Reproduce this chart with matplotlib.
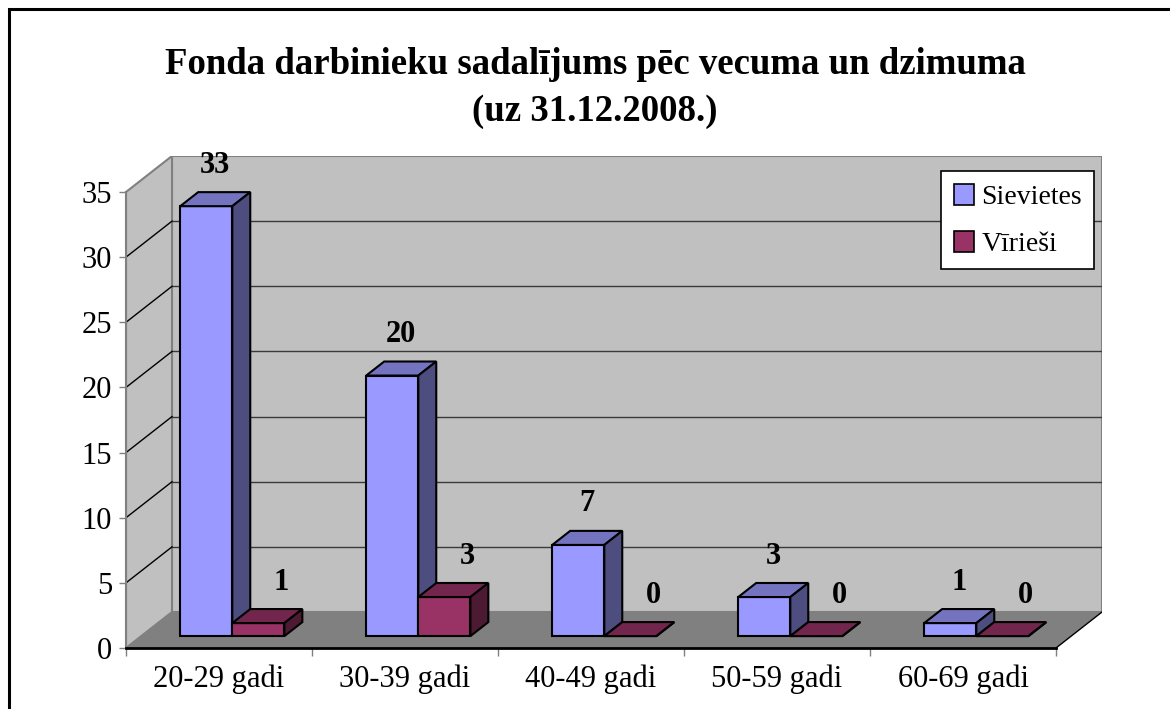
import matplotlib
matplotlib.use("Agg")
import matplotlib.pyplot as plt
from matplotlib.patches import Polygon, Rectangle, Patch
import numpy as np

plt.rcParams['font.family'] = ['Liberation Serif', 'DejaVu Serif']

categories = ['20-29 gadi', '30-39 gadi', '40-49 gadi', '50-59 gadi', '60-69 gadi']
series_names = ['Sievietes', 'Vīrieši']
sievietes = [33, 20, 7, 3, 1]
virieshi = [1, 3, 0, 0, 0]
yticks = [0, 5, 10, 15, 20, 25, 30, 35]

# colours: front, top, side
colors = {
    'Sievietes': ('#9999FF', '#7373BF', '#4D4D80'),
    'Vīrieši': ('#993366', '#73264D', '#4D1A33'),
}

W, H = 1170, 709
fig = plt.figure(figsize=(W / 100, H / 100), dpi=100)
fig.patch.set_facecolor('white')

# outer frame of the chart (runs off right and bottom)
fig.add_artist(Rectangle((9 / W, -0.1), 1.2, 1 - 9 / H + 0.1, transform=fig.transFigure,
                         fill=False, ec='black', lw=2.2))

# front plane: x 126..1056 px, value 0..35 -> y 648..192 px; depth 46 px right, 36 px up
left_px, right_px, y0_px, y35_px = 126, 1056, 648, 192
dx_px, dy_px = 46, 36
ncat = len(categories)
xmax = ncat * (right_px - left_px + dx_px) / (right_px - left_px)
ymax = 35 * (y0_px - y35_px + dy_px) / (y0_px - y35_px)
DX = xmax - ncat
DY = ymax - 35

ax = fig.add_axes([left_px / W, 1 - y0_px / H,
                   (right_px - left_px + dx_px) / W, (y0_px - y35_px + dy_px) / H])
ax.set_xlim(0, xmax)
ax.set_ylim(0, ymax)
ax.patch.set_visible(False)


def P(x, v, d):
    return (x + d * DX, v + d * DY)


# walls
ax.add_patch(Polygon([P(0, 0, 1), P(ncat, 0, 1), P(ncat, 35, 1), P(0, 35, 1)],
                     fc='#C0C0C0', ec='#808080', lw=1.5, zorder=1))
ax.add_patch(Polygon([P(0, 0, 0), P(0, 35, 0), P(0, 35, 1), P(0, 0, 1)],
                     fc='#C0C0C0', ec='#808080', lw=1.5, zorder=1))
ax.add_patch(Polygon([P(0, 0, 0), P(ncat, 0, 0), P(ncat, 0, 1), P(0, 0, 1)],
                     fc='#808080', ec='none', zorder=1))
ax.plot(*zip(P(ncat, 0, 0), P(ncat, 0, 1)), color='black', lw=1, zorder=2)

for v in yticks[1:-1]:
    ax.plot(*zip(P(0, v, 1), P(ncat, v, 1)), color='#3a3a3a', lw=1, zorder=2)
    ax.plot(*zip(P(0, v, 0), P(0, v, 1)), color='black', lw=1, zorder=2)

# bars
bar_off, bar_w = 0.21, 0.28
d0, d1 = 0.33, 0.72
label_dx = [0, 10]
for i in range(ncat):
    for k, (name, vals) in enumerate(zip(series_names, [sievietes, virieshi])):
        v = vals[i]
        front, top, side = colors[name]
        x0 = i + bar_off + k * bar_w
        x1 = x0 + bar_w
        ax.add_patch(Polygon([P(x0, 0, d0), P(x1, 0, d0), P(x1, v, d0), P(x0, v, d0)],
                             fc=front, ec='black', lw=1.5, zorder=3, joinstyle='miter'))
        ax.add_patch(Polygon([P(x0, v, d0), P(x1, v, d0), P(x1, v, d1), P(x0, v, d1)],
                             fc=top, ec='black', lw=1.5, zorder=3, joinstyle='miter'))
        ax.add_patch(Polygon([P(x1, 0, d0), P(x1, 0, d1), P(x1, v, d1), P(x1, v, d0)],
                             fc=side, ec='black', lw=1.5, zorder=3, joinstyle='miter'))
        lx, ly = P((x0 + x1) / 2, v, (d0 + d1) / 2)
        ax.annotate(str(v), (lx, ly), xytext=(label_dx[k], 14), textcoords='offset points',
                    ha='center', va='bottom', fontsize=22, fontweight='bold', zorder=4)

# axes, ticks, labels
for s in ['top', 'right']:
    ax.spines[s].set_visible(False)
ax.spines['left'].set_bounds(0, 35)
ax.spines['left'].set_color('#808080')
ax.spines['left'].set_linewidth(1.5)
ax.spines['bottom'].set_bounds(0, ncat)
ax.spines['bottom'].set_color('black')
ax.spines['bottom'].set_linewidth(2)
ax.spines['bottom'].set_zorder(2.5)
ax.set_yticks(yticks)
ax.set_yticklabels([str(t) for t in yticks], fontsize=22)
ax.tick_params(axis='y', length=5, width=1, color='#808080', pad=5)
ax.set_xticks(np.arange(ncat + 1))
ax.set_xticklabels([])
ax.tick_params(axis='x', which='major', length=6, width=1, color='#808080')
ax.set_xticks(np.arange(ncat) + 0.5, minor=True)
ax.set_xticklabels(categories, minor=True, fontsize=22)
ax.tick_params(axis='x', which='minor', length=0, pad=12)

handles = [Patch(fc=colors[n][0], ec='black', lw=1.2) for n in series_names]
leg = fig.legend(handles, series_names, loc='upper left',
                 bbox_to_anchor=(941 / W, 1 - 171 / H), fontsize=20,
                 frameon=True, fancybox=False, edgecolor='black', framealpha=1,
                 handlelength=0.75, handleheight=0.8, handletextpad=0.25,
                 borderpad=0.45, labelspacing=0.75, borderaxespad=0)
leg.get_frame().set_linewidth(1.2)

fig.text(595 / W, 1 - 88 / H, 'Fonda darbinieku sadalījums pēc vecuma un dzimuma\n(uz 31.12.2008.)',
         ha='center', va='center', fontsize=26.5, fontweight='bold', linespacing=1.45)

fig.savefig('out.png', dpi=100)
